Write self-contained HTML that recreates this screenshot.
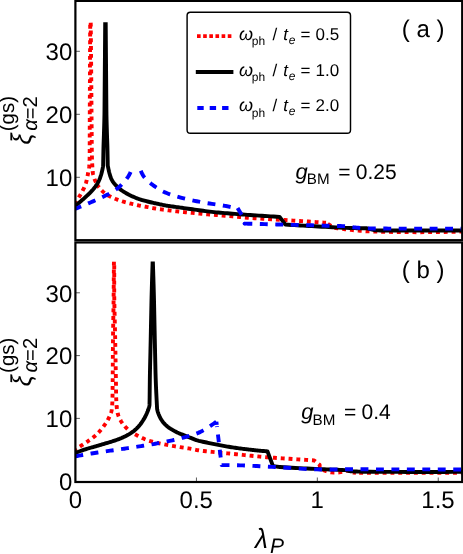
<!DOCTYPE html>
<html><head><meta charset="utf-8"><title>chart</title>
<style>html,body{margin:0;padding:0;background:#fff;}body{width:463px;height:554px;overflow:hidden;font-family:"Liberation Sans",sans-serif;}svg{display:block;will-change:transform;}text{text-rendering:geometricPrecision;}</style>
</head><body>
<svg width="463" height="554" viewBox="0 0 463 554">
<rect width="463" height="554" fill="#fff"/>
<defs><clipPath id="ca"><rect x="75.4" y="22.3" width="386.79999999999995" height="217.88"/></clipPath><clipPath id="cb"><rect x="75.4" y="261.5" width="386.79999999999995" height="220.5"/></clipPath></defs>
<g clip-path="url(#ca)">
<path d="M90.45 9.30 L90.42 10.57 L90.40 11.84 L90.38 13.11 L90.35 14.38 L90.33 15.65 L90.31 16.92 L90.29 18.19 L90.28 19.46 L90.26 20.73 L90.25 22.00 L90.22 25.80 L90.19 29.60 L90.16 33.40 L90.13 37.20 L90.10 41.00 L90.08 44.80 L90.06 48.60 L90.04 52.40 L90.02 56.20 L90.00 60.00 L89.98 65.00 L89.96 70.00 L89.94 75.00 L89.92 80.00 L89.90 85.00 L89.88 90.00 L89.86 95.00 L89.84 100.00 L89.82 105.00 L89.80 110.00 L89.79 114.00 L89.77 118.00 L89.76 122.00 L89.75 126.00 L89.74 130.00 L89.74 134.00 L89.73 138.00 L89.72 142.00 L89.71 146.00 L89.70 150.00 L89.70 151.53 L89.69 153.06 L89.68 154.59 L89.66 156.12 L89.63 157.65 L89.59 159.18 L89.54 160.71 L89.48 162.24 L89.40 163.77 L89.30 165.30 L89.22 166.19 L89.12 167.07 L89.01 167.96 L88.87 168.84 L88.72 169.71 L88.56 170.59 L88.40 171.47 L88.23 172.35 L88.06 173.22 L87.90 174.10 L87.76 174.87 L87.62 175.65 L87.47 176.42 L87.32 177.19 L87.17 177.96 L87.01 178.73 L86.84 179.50 L86.67 180.27 L86.49 181.03 L86.30 181.80 L86.10 182.55 L85.87 183.29 L85.63 184.02 L85.37 184.75 L85.09 185.47 L84.80 186.19 L84.49 186.90 L84.17 187.60 L83.84 188.30 L83.50 189.00 L83.13 189.73 L82.76 190.45 L82.39 191.17 L82.01 191.89 L81.62 192.60 L81.23 193.30 L80.84 194.01 L80.43 194.71 L80.02 195.41 L79.60 196.10 L79.20 196.76 L78.79 197.42 L78.38 198.08 L77.97 198.73 L77.55 199.38 L77.13 200.03 L76.71 200.68 L76.28 201.32 L75.84 201.96 L75.40 202.60" fill="none" stroke="#ff0000" stroke-width="3.9" stroke-linejoin="round" stroke-dasharray="3.884 3.884" stroke-dashoffset="0.000"/>
<path d="M90.45 9.30 L90.48 10.57 L90.51 11.84 L90.54 13.11 L90.57 14.38 L90.59 15.65 L90.62 16.92 L90.64 18.19 L90.66 19.46 L90.68 20.73 L90.70 22.00 L90.75 25.80 L90.79 29.60 L90.84 33.40 L90.88 37.20 L90.92 41.00 L90.96 44.80 L91.00 48.60 L91.03 52.40 L91.07 56.20 L91.10 60.00 L91.14 65.00 L91.18 70.00 L91.22 75.00 L91.26 80.00 L91.30 85.00 L91.34 90.00 L91.38 95.00 L91.42 100.00 L91.46 105.00 L91.50 110.00 L91.53 114.00 L91.56 118.00 L91.59 122.00 L91.62 126.00 L91.65 130.00 L91.68 134.00 L91.71 138.00 L91.74 142.00 L91.77 146.00 L91.80 150.00 L91.82 152.08 L91.86 154.16 L91.91 156.24 L91.98 158.32 L92.05 160.40 L92.14 162.48 L92.24 164.56 L92.35 166.64 L92.47 168.72 L92.60 170.80 L92.67 171.60 L92.77 172.39 L92.90 173.18 L93.06 173.96 L93.24 174.74 L93.45 175.52 L93.67 176.29 L93.90 177.06 L94.15 177.83 L94.40 178.60 L94.60 179.19 L94.82 179.77 L95.05 180.34 L95.29 180.90 L95.55 181.46 L95.81 182.02 L96.09 182.57 L96.38 183.12 L96.69 183.66 L97.00 184.20" fill="none" stroke="#ff0000" stroke-width="3.9" stroke-linejoin="round" stroke-dasharray="3.910 3.910" stroke-dashoffset="2.300"/>
<path d="M97.00 184.20 L97.11 184.43 L97.23 184.66 L97.35 184.89 L97.47 185.11 L97.60 185.33 L97.73 185.55 L97.87 185.77 L98.01 185.98 L98.15 186.19 L98.30 186.40 L98.71 186.96 L99.13 187.52 L99.56 188.06 L100.00 188.59 L100.45 189.12 L100.91 189.63 L101.39 190.14 L101.88 190.64 L102.38 191.12 L102.90 191.60 L103.50 192.12 L104.10 192.63 L104.71 193.13 L105.33 193.60 L105.96 194.06 L106.61 194.51 L107.26 194.93 L107.93 195.34 L108.61 195.73 L109.30 196.10 L110.01 196.46 L110.72 196.81 L111.43 197.15 L112.14 197.49 L112.86 197.81 L113.58 198.13 L114.30 198.44 L115.03 198.74 L115.76 199.02 L116.50 199.30 L117.26 199.58 L118.03 199.86 L118.79 200.14 L119.56 200.42 L120.33 200.68 L121.09 200.95 L121.86 201.20 L122.64 201.45 L123.42 201.68 L124.20 201.90 L124.98 202.11 L125.76 202.32 L126.54 202.52 L127.31 202.73 L128.09 202.93 L128.87 203.12 L129.65 203.32 L130.44 203.52 L131.22 203.71 L132.00 203.90 L132.64 204.06 L133.28 204.21 L133.92 204.37 L134.55 204.53 L135.19 204.68 L135.83 204.84 L136.47 204.99 L137.11 205.13 L137.76 205.27 L138.40 205.40 L139.22 205.56 L140.04 205.71 L140.86 205.87 L141.68 206.01 L142.50 206.16 L143.32 206.31 L144.14 206.45 L144.96 206.60 L145.78 206.75 L146.60 206.90 L147.38 207.05 L148.16 207.20 L148.94 207.35 L149.72 207.51 L150.50 207.66 L151.28 207.82 L152.06 207.97 L152.84 208.12 L153.62 208.26 L154.40 208.40 L155.17 208.53 L155.94 208.65 L156.70 208.77 L157.47 208.88 L158.24 208.99 L159.01 209.10 L159.79 209.20 L160.56 209.30 L161.33 209.40 L162.10 209.50 L162.88 209.60 L163.66 209.70 L164.44 209.80 L165.22 209.90 L166.00 210.00 L166.78 210.10 L167.56 210.20 L168.34 210.30 L169.12 210.40 L169.90 210.50 L170.64 210.59 L171.38 210.69 L172.12 210.78 L172.86 210.87 L173.60 210.97 L174.34 211.06 L175.08 211.15 L175.82 211.23 L176.56 211.32 L177.30 211.40 L178.08 211.48 L178.86 211.57 L179.64 211.65 L180.42 211.73 L181.20 211.81 L181.98 211.89 L182.76 211.96 L183.54 212.04 L184.32 212.12 L185.10 212.20 L186.91 212.38 L188.72 212.57 L190.53 212.75 L192.34 212.93 L194.15 213.12 L195.96 213.30 L197.77 213.48 L199.58 213.65 L201.39 213.83 L203.20 214.00 L205.36 214.20 L207.52 214.38 L209.68 214.55 L211.84 214.72 L214.00 214.88 L216.16 215.04 L218.32 215.20 L220.48 215.36 L222.64 215.53 L224.80 215.70 L227.32 215.91 L229.84 216.14 L232.36 216.37 L234.88 216.61 L237.40 216.85 L239.92 217.08 L242.43 217.30 L244.96 217.52 L247.48 217.72 L250.00 217.90 L254.32 218.19 L258.64 218.47 L262.96 218.74 L267.28 219.01 L271.60 219.27 L275.92 219.53 L280.24 219.79 L284.56 220.06 L288.88 220.33 L293.20 220.60 L295.36 220.74 L297.52 220.88 L299.68 221.02 L301.84 221.15 L304.00 221.29 L306.16 221.43 L308.32 221.57 L310.48 221.71 L312.64 221.86 L314.80 222.00 L315.92 222.08 L317.04 222.15 L318.16 222.23 L319.28 222.31 L320.40 222.39 L321.52 222.47 L322.64 222.55 L323.76 222.63 L324.88 222.72 L326.00 222.80" fill="none" stroke="#ff0000" stroke-width="3.9" stroke-linejoin="round" stroke-dasharray="3.881 3.881" stroke-dashoffset="7.735"/>
<path d="M326.00 222.80 L334.00 227.80 L334.00 227.80 L335.10 227.95 L336.20 228.10 L337.30 228.24 L338.40 228.38 L339.50 228.52 L340.60 228.66 L341.70 228.80 L342.80 228.93 L343.90 229.07 L345.00 229.20 L346.50 229.38 L348.00 229.56 L349.49 229.73 L350.99 229.89 L352.49 230.05 L353.99 230.21 L355.49 230.37 L356.99 230.52 L358.50 230.66 L360.00 230.80 L361.50 230.93 L363.00 231.05 L364.50 231.15 L366.00 231.24 L367.50 231.32 L369.00 231.39 L370.50 231.45 L372.00 231.51 L373.50 231.56 L375.00 231.60 L383.70 231.81 L392.39 231.97 L401.09 232.09 L409.79 232.16 L418.49 232.18 L427.19 232.16 L435.89 232.09 L444.59 231.97 L453.29 231.81 L462.00 231.60" fill="none" stroke="#ff0000" stroke-width="3.9" stroke-linejoin="round" stroke-dasharray="3.910 3.910" stroke-dashoffset="5.708"/>
<path d="M75.40 205.80 L76.15 205.18 L76.90 204.56 L77.64 203.94 L78.38 203.31 L79.12 202.68 L79.86 202.05 L80.60 201.41 L81.33 200.78 L82.07 200.14 L82.80 199.50 L83.47 198.92 L84.13 198.33 L84.78 197.74 L85.44 197.14 L86.08 196.54 L86.73 195.94 L87.38 195.33 L88.02 194.72 L88.66 194.11 L89.30 193.50 L90.00 192.81 L90.68 192.11 L91.35 191.40 L92.00 190.68 L92.65 189.94 L93.27 189.20 L93.89 188.44 L94.50 187.67 L95.11 186.89 L95.70 186.10 L96.13 185.51 L96.54 184.91 L96.94 184.30 L97.32 183.68 L97.69 183.06 L98.04 182.42 L98.38 181.78 L98.70 181.13 L99.01 180.47 L99.30 179.80 L99.58 179.13 L99.85 178.46 L100.10 177.79 L100.35 177.11 L100.58 176.44 L100.80 175.76 L101.02 175.07 L101.22 174.38 L101.42 173.69 L101.60 173.00 L101.79 172.26 L101.97 171.51 L102.15 170.77 L102.32 170.02 L102.48 169.27 L102.63 168.52 L102.77 167.77 L102.91 167.02 L103.03 166.26 L103.15 165.50 L103.15 165.50 L103.17 164.35 L103.19 163.20 L103.20 162.05 L103.22 160.90 L103.24 159.75 L103.27 158.60 L103.29 157.45 L103.31 156.30 L103.33 155.15 L103.35 154.00 L103.37 153.10 L103.38 152.20 L103.40 151.30 L103.42 150.40 L103.44 149.50 L103.46 148.60 L103.48 147.70 L103.50 146.80 L103.53 145.90 L103.55 145.00 L103.58 144.00 L103.61 143.00 L103.65 142.00 L103.68 141.00 L103.72 140.00 L103.76 139.00 L103.80 138.00 L103.83 137.00 L103.87 136.00 L103.90 135.00 L103.98 132.50 L104.05 130.00 L104.13 127.50 L104.20 125.00 L104.27 122.50 L104.33 120.00 L104.39 117.50 L104.44 115.00 L104.47 112.50 L104.50 110.00 L104.54 105.00 L104.58 100.00 L104.62 95.00 L104.66 90.00 L104.70 85.00 L104.74 80.00 L104.78 75.00 L104.82 70.00 L104.86 65.00 L104.90 60.00 L104.93 56.20 L104.96 52.40 L104.99 48.60 L105.02 44.80 L105.05 41.00 L105.08 37.20 L105.11 33.40 L105.14 29.60 L105.17 25.80 L105.20 22.00 L105.21 20.60 L105.23 19.20 L105.25 17.80 L105.27 16.40 L105.30 15.00 L105.33 13.60 L105.36 12.20 L105.39 10.80 L105.42 9.40 L105.45 8.00 L105.45 8.00 L105.48 9.40 L105.51 10.80 L105.54 12.20 L105.57 13.60 L105.60 15.00 L105.63 16.40 L105.65 17.80 L105.67 19.20 L105.69 20.60 L105.70 22.00 L105.73 25.80 L105.76 29.60 L105.79 33.40 L105.82 37.20 L105.85 41.00 L105.88 44.80 L105.91 48.60 L105.94 52.40 L105.97 56.20 L106.00 60.00 L106.04 65.00 L106.08 70.00 L106.12 75.00 L106.16 80.00 L106.20 85.00 L106.24 90.00 L106.28 95.00 L106.32 100.00 L106.36 105.00 L106.40 110.00 L106.43 112.50 L106.46 115.00 L106.51 117.50 L106.57 120.00 L106.63 122.50 L106.70 125.00 L106.77 127.50 L106.85 130.00 L106.92 132.50 L107.00 135.00 L107.03 136.00 L107.07 137.00 L107.10 138.00 L107.14 139.00 L107.18 140.00 L107.22 141.00 L107.25 142.00 L107.29 143.00 L107.32 144.00 L107.35 145.00 L107.37 145.90 L107.40 146.80 L107.42 147.70 L107.44 148.60 L107.46 149.50 L107.48 150.40 L107.50 151.30 L107.52 152.20 L107.53 153.10 L107.55 154.00 L107.57 155.15 L107.59 156.30 L107.61 157.45 L107.63 158.60 L107.66 159.75 L107.68 160.90 L107.70 162.05 L107.71 163.20 L107.73 164.35 L107.75 165.50 L107.75 165.50 L107.85 166.05 L107.95 166.61 L108.06 167.16 L108.17 167.71 L108.29 168.26 L108.41 168.81 L108.53 169.36 L108.65 169.90 L108.78 170.45 L108.90 171.00 L109.05 171.67 L109.22 172.34 L109.38 173.00 L109.56 173.66 L109.75 174.32 L109.94 174.98 L110.14 175.64 L110.35 176.29 L110.57 176.95 L110.80 177.60 L111.11 178.39 L111.45 179.15 L111.83 179.90 L112.25 180.63 L112.70 181.34 L113.17 182.03 L113.67 182.72 L114.19 183.39 L114.74 184.05 L115.30 184.70 L115.89 185.35 L116.48 185.98 L117.09 186.59 L117.70 187.19 L118.33 187.77 L118.97 188.32 L119.63 188.87 L120.30 189.39 L120.99 189.90 L121.70 190.40 L122.59 191.00 L123.49 191.58 L124.38 192.15 L125.29 192.71 L126.20 193.25 L127.12 193.77 L128.05 194.28 L128.98 194.77 L129.94 195.24 L130.90 195.70 L131.92 196.17 L132.95 196.63 L133.97 197.08 L135.00 197.52 L136.03 197.95 L137.07 198.36 L138.12 198.75 L139.17 199.13 L140.23 199.48 L141.30 199.80 L142.34 200.10 L143.37 200.39 L144.41 200.67 L145.44 200.95 L146.48 201.23 L147.52 201.50 L148.56 201.76 L149.61 202.01 L150.65 202.26 L151.70 202.50 L152.53 202.69 L153.36 202.87 L154.19 203.05 L155.02 203.24 L155.85 203.42 L156.68 203.60 L157.51 203.78 L158.34 203.95 L159.17 204.13 L160.00 204.30 L160.89 204.48 L161.77 204.67 L162.66 204.86 L163.55 205.04 L164.44 205.22 L165.33 205.39 L166.22 205.56 L167.11 205.72 L168.00 205.87 L168.90 206.00 L170.19 206.18 L171.48 206.36 L172.77 206.54 L174.06 206.72 L175.35 206.90 L176.64 207.08 L177.93 207.26 L179.22 207.44 L180.51 207.62 L181.80 207.80 L183.94 208.10 L186.08 208.40 L188.22 208.70 L190.36 209.00 L192.50 209.30 L194.64 209.60 L196.78 209.90 L198.92 210.20 L201.06 210.50 L203.20 210.80 L205.35 211.09 L207.51 211.37 L209.66 211.62 L211.82 211.87 L213.98 212.10 L216.14 212.32 L218.31 212.53 L220.47 212.73 L222.64 212.92 L224.80 213.10 L227.32 213.31 L229.84 213.51 L232.36 213.71 L234.88 213.91 L237.40 214.10 L239.92 214.29 L242.44 214.47 L244.96 214.65 L247.48 214.83 L250.00 215.00 L252.96 215.20 L255.92 215.40 L258.88 215.59 L261.84 215.79 L264.80 215.98 L267.76 216.17 L270.72 216.36 L273.68 216.54 L276.64 216.72 L279.60 216.90 L285.40 224.60 L288.34 224.78 L291.28 224.96 L294.22 225.13 L297.16 225.31 L300.10 225.48 L303.04 225.64 L305.98 225.81 L308.92 225.97 L311.86 226.14 L314.80 226.30 L318.32 226.49 L321.84 226.68 L325.36 226.86 L328.88 227.04 L332.40 227.21 L335.92 227.38 L339.44 227.54 L342.96 227.70 L346.48 227.85 L350.00 228.00 L351.70 228.06 L353.40 228.12 L355.10 228.16 L356.80 228.20 L358.50 228.23 L360.20 228.26 L361.90 228.27 L363.60 228.29 L365.30 228.29 L367.00 228.30 L375.40 230.40 L377.86 230.41 L380.32 230.43 L382.78 230.44 L385.24 230.45 L387.70 230.46 L390.16 230.47 L392.62 230.48 L395.08 230.49 L397.54 230.49 L400.00 230.50 L406.20 230.51 L412.40 230.52 L418.60 230.53 L424.80 230.53 L431.00 230.53 L437.20 230.53 L443.40 230.53 L449.60 230.52 L455.80 230.51 L462.00 230.50" fill="none" stroke="#000000" stroke-width="3.9" stroke-linejoin="round"/>
<path d="M130.60 172.00 L130.30 172.66 L130.00 173.31 L129.68 173.95 L129.35 174.58 L129.01 175.20 L128.66 175.82 L128.29 176.43 L127.91 177.03 L127.51 177.62 L127.10 178.20 L126.59 178.89 L126.06 179.57 L125.53 180.24 L124.98 180.90 L124.43 181.55 L123.86 182.20 L123.29 182.83 L122.70 183.46 L122.11 184.08 L121.50 184.70 L121.03 185.16 L120.57 185.62 L120.10 186.07 L119.62 186.52 L119.14 186.95 L118.65 187.38 L118.15 187.80 L117.65 188.21 L117.13 188.61 L116.60 189.00 L115.59 189.71 L114.57 190.41 L113.55 191.08 L112.52 191.74 L111.48 192.39 L110.42 193.01 L109.36 193.61 L108.29 194.20 L107.20 194.76 L106.10 195.30 L104.65 195.99 L103.20 196.68 L101.74 197.37 L100.29 198.05 L98.83 198.73 L97.37 199.39 L95.91 200.06 L94.44 200.71 L92.97 201.36 L91.50 202.00 L89.89 202.69 L88.29 203.38 L86.68 204.07 L85.08 204.76 L83.47 205.44 L81.86 206.13 L80.25 206.80 L78.64 207.47 L77.02 208.14 L75.40 208.80" fill="none" stroke="#0000ff" stroke-width="3.9" stroke-linejoin="round" stroke-dasharray="7.900 7.550" stroke-dashoffset="0.000"/>
<path d="M140.80 170.80 L141.13 171.59 L141.47 172.37 L141.83 173.14 L142.20 173.89 L142.60 174.62 L143.03 175.33 L143.48 176.03 L143.95 176.70 L144.46 177.36 L145.00 178.00 L145.71 178.78 L146.43 179.54 L147.17 180.28 L147.93 181.00 L148.70 181.71 L149.48 182.39 L150.29 183.07 L151.11 183.73 L151.95 184.37 L152.80 185.00 L153.97 185.85 L155.15 186.68 L156.32 187.50 L157.51 188.29 L158.71 189.06 L159.92 189.81 L161.15 190.52 L162.40 191.19 L163.69 191.82 L165.00 192.40 L166.63 193.07 L168.27 193.71 L169.91 194.31 L171.55 194.89 L173.21 195.44 L174.87 195.97 L176.54 196.46 L178.22 196.93 L179.90 197.38 L181.60 197.80 L183.75 198.32 L185.91 198.83 L188.06 199.34 L190.21 199.84 L192.37 200.32 L194.53 200.79 L196.69 201.25 L198.85 201.69 L201.02 202.11 L203.20 202.50 L205.36 202.86 L207.52 203.20 L209.68 203.52 L211.84 203.83 L214.01 204.13 L216.17 204.44 L218.33 204.75 L220.49 205.08 L222.65 205.42 L224.80 205.80 L225.38 205.91 L225.96 206.02 L226.55 206.13 L227.13 206.25 L227.71 206.36 L228.29 206.48 L228.87 206.61 L229.44 206.74 L230.02 206.87 L230.60 207.00" fill="none" stroke="#0000ff" stroke-width="3.9" stroke-linejoin="round" stroke-dasharray="7.895 7.546" stroke-dashoffset="0.000"/>
<path d="M237.60 207.90 L241.60 214.70" fill="none" stroke="#0000ff" stroke-width="3.9" stroke-linejoin="round"/>
<path d="M244.40 223.60 L245.25 223.62 L246.10 223.64 L246.95 223.66 L247.80 223.68 L248.65 223.70 L249.50 223.72 L250.35 223.74 L251.20 223.76 L252.05 223.78 L252.90 223.80 L255.85 223.88 L258.80 223.96 L261.75 224.04 L264.70 224.12 L267.65 224.20 L270.60 224.29 L273.55 224.37 L276.50 224.45 L279.45 224.53 L282.40 224.60 L285.64 224.68 L288.88 224.76 L292.12 224.84 L295.36 224.92 L298.60 225.00 L301.84 225.08 L305.08 225.16 L308.32 225.24 L311.56 225.32 L314.80 225.40 L317.61 225.47 L320.42 225.54 L323.23 225.61 L326.04 225.68 L328.85 225.75 L331.66 225.82 L334.47 225.89 L337.28 225.96 L340.09 226.03 L342.90 226.10 L344.29 226.16 L345.67 226.27 L347.05 226.41 L348.43 226.57 L349.80 226.76 L351.18 226.95 L352.56 227.14 L353.94 227.32 L355.32 227.47 L356.70 227.60 L358.25 227.72 L359.80 227.84 L361.35 227.96 L362.90 228.08 L364.44 228.19 L365.99 228.28 L367.55 228.37 L369.10 228.43 L370.65 228.48 L372.20 228.50 L374.98 228.52 L377.76 228.54 L380.54 228.55 L383.32 228.56 L386.10 228.57 L388.88 228.58 L391.66 228.59 L394.44 228.60 L397.22 228.60 L400.00 228.60 L406.20 228.60 L412.40 228.61 L418.60 228.61 L424.80 228.61 L431.00 228.62 L437.20 228.62 L443.40 228.62 L449.60 228.61 L455.80 228.61 L462.00 228.60" fill="none" stroke="#0000ff" stroke-width="3.9" stroke-linejoin="round" stroke-dasharray="7.900 7.550" stroke-dashoffset="0.000"/>
<circle cx="244.5" cy="223.6" r="1.9" fill="#0000ff"/>
</g>
<g clip-path="url(#cb)">
<path d="M114.08 253.90 L114.06 254.61 L114.05 255.32 L114.03 256.03 L114.02 256.74 L114.01 257.45 L113.99 258.16 L113.98 258.87 L113.97 259.58 L113.96 260.29 L113.95 261.00 L113.90 264.90 L113.87 268.80 L113.83 272.70 L113.80 276.60 L113.77 280.50 L113.75 284.40 L113.72 288.30 L113.68 292.20 L113.64 296.10 L113.60 300.00 L113.55 304.00 L113.49 308.00 L113.42 312.00 L113.36 316.00 L113.29 320.00 L113.22 324.00 L113.16 328.00 L113.10 332.00 L113.04 336.00 L113.00 340.00 L112.96 344.00 L112.93 348.00 L112.90 352.00 L112.87 356.00 L112.84 360.00 L112.82 364.00 L112.79 368.00 L112.76 372.00 L112.73 376.00 L112.70 380.00 L112.69 381.50 L112.67 383.00 L112.66 384.50 L112.65 386.00 L112.63 387.50 L112.61 389.00 L112.60 390.50 L112.58 392.00 L112.57 393.50 L112.55 395.00 L112.54 395.58 L112.53 396.16 L112.52 396.74 L112.50 397.32 L112.49 397.90 L112.47 398.48 L112.45 399.06 L112.43 399.64 L112.42 400.22 L112.40 400.80 L112.37 401.58 L112.34 402.36 L112.31 403.14 L112.27 403.92 L112.22 404.70 L112.17 405.48 L112.11 406.26 L112.05 407.04 L111.98 407.82 L111.90 408.60 L111.81 409.32 L111.69 410.04 L111.54 410.75 L111.36 411.45 L111.16 412.15 L110.94 412.85 L110.70 413.54 L110.45 414.23 L110.18 414.92 L109.90 415.60 L109.62 416.27 L109.32 416.93 L109.02 417.59 L108.71 418.24 L108.38 418.88 L108.05 419.51 L107.71 420.14 L107.35 420.76 L106.98 421.38 L106.60 422.00 L106.12 422.75 L105.63 423.50 L105.13 424.23 L104.63 424.96 L104.11 425.69 L103.59 426.40 L103.06 427.11 L102.52 427.81 L101.96 428.51 L101.40 429.20 L100.77 429.96 L100.13 430.72 L99.49 431.46 L98.83 432.20 L98.17 432.92 L97.49 433.63 L96.80 434.33 L96.08 435.00 L95.35 435.66 L94.60 436.30 L94.00 436.79 L93.39 437.27 L92.78 437.75 L92.17 438.22 L91.55 438.68 L90.93 439.14 L90.31 439.59 L89.68 440.03 L89.04 440.47 L88.40 440.90 L87.75 441.33 L87.10 441.76 L86.45 442.19 L85.80 442.62 L85.15 443.05 L84.50 443.48 L83.85 443.91 L83.20 444.34 L82.55 444.77 L81.90 445.20 L81.25 445.63 L80.60 446.06 L79.95 446.49 L79.30 446.92 L78.65 447.35 L78.00 447.78 L77.35 448.21 L76.70 448.64 L76.05 449.07 L75.40 449.50" fill="none" stroke="#ff0000" stroke-width="3.9" stroke-linejoin="round" stroke-dasharray="3.885 3.885" stroke-dashoffset="0.000"/>
<path d="M114.08 253.90 L114.10 254.61 L114.11 255.32 L114.13 256.03 L114.14 256.74 L114.15 257.45 L114.16 258.16 L114.17 258.87 L114.18 259.58 L114.19 260.29 L114.20 261.00 L114.23 264.90 L114.24 268.80 L114.24 272.70 L114.23 276.60 L114.22 280.50 L114.21 284.40 L114.21 288.30 L114.22 292.20 L114.25 296.10 L114.30 300.00 L114.37 304.00 L114.46 308.00 L114.55 312.00 L114.65 316.00 L114.74 320.00 L114.84 324.00 L114.94 328.00 L115.03 332.00 L115.12 336.00 L115.20 340.00 L115.27 344.00 L115.35 348.00 L115.42 352.00 L115.49 356.00 L115.56 360.00 L115.63 364.00 L115.70 368.00 L115.76 372.00 L115.83 376.00 L115.90 380.00 L115.92 381.50 L115.95 383.00 L115.97 384.50 L115.99 386.00 L116.00 387.50 L116.02 389.00 L116.04 390.50 L116.06 392.00 L116.08 393.50 L116.10 395.00 L116.11 395.78 L116.13 396.56 L116.16 397.34 L116.19 398.12 L116.22 398.90 L116.26 399.68 L116.29 400.46 L116.33 401.24 L116.36 402.02 L116.40 402.80 L116.44 403.67 L116.50 404.55 L116.57 405.42 L116.64 406.29 L116.73 407.16 L116.83 408.03 L116.93 408.90 L117.05 409.76 L117.17 410.63 L117.30 411.50 L117.44 412.31 L117.62 413.12 L117.83 413.91 L118.07 414.70 L118.34 415.48 L118.63 416.25 L118.94 417.02 L119.28 417.78 L119.63 418.54 L120.00 419.30 L120.32 419.93 L120.66 420.54 L121.00 421.14 L121.36 421.74 L121.73 422.32 L122.12 422.89 L122.51 423.45 L122.93 424.01 L123.36 424.56 L123.80 425.10 L124.35 425.74 L124.90 426.38 L125.47 427.00 L126.04 427.60 L126.62 428.20 L127.21 428.78 L127.82 429.35 L128.43 429.91 L129.06 430.46 L129.70 431.00 L129.88 431.15 L130.06 431.29 L130.24 431.43 L130.43 431.56 L130.62 431.69 L130.81 431.82 L131.00 431.94 L131.20 432.07 L131.40 432.18 L131.60 432.30" fill="none" stroke="#ff0000" stroke-width="3.9" stroke-linejoin="round" stroke-dasharray="3.885 3.885" stroke-dashoffset="4.170"/>
<path d="M131.60 432.30 L132.34 432.75 L133.09 433.20 L133.84 433.63 L134.60 434.06 L135.36 434.48 L136.12 434.89 L136.88 435.30 L137.65 435.71 L138.42 436.11 L139.20 436.50 L140.15 436.98 L141.09 437.45 L142.05 437.91 L143.00 438.36 L143.97 438.80 L144.93 439.22 L145.91 439.62 L146.90 440.01 L147.89 440.37 L148.90 440.70 L150.05 441.05 L151.20 441.39 L152.35 441.71 L153.51 442.02 L154.67 442.31 L155.83 442.59 L156.99 442.86 L158.16 443.12 L159.33 443.36 L160.50 443.60 L161.82 443.86 L163.14 444.12 L164.45 444.39 L165.77 444.64 L167.09 444.90 L168.41 445.15 L169.73 445.40 L171.05 445.64 L172.38 445.87 L173.70 446.10 L175.33 446.37 L176.96 446.63 L178.59 446.89 L180.22 447.15 L181.85 447.40 L183.48 447.66 L185.11 447.91 L186.74 448.17 L188.37 448.43 L190.00 448.70 L191.16 448.90 L192.32 449.12 L193.48 449.35 L194.63 449.59 L195.79 449.83 L196.95 450.06 L198.10 450.27 L199.27 450.47 L200.43 450.65 L201.60 450.80 L203.76 451.04 L205.92 451.26 L208.08 451.47 L210.24 451.68 L212.40 451.88 L214.56 452.08 L216.72 452.28 L218.88 452.48 L221.04 452.69 L223.20 452.90 L225.36 453.12 L227.52 453.34 L229.68 453.56 L231.84 453.78 L234.00 454.00 L236.16 454.22 L238.32 454.44 L240.48 454.66 L242.64 454.88 L244.80 455.10 L246.96 455.32 L249.12 455.54 L251.28 455.76 L253.44 455.98 L255.60 456.20 L257.75 456.41 L259.91 456.62 L262.08 456.82 L264.24 457.02 L266.40 457.20 L268.42 457.36 L270.44 457.52 L272.46 457.66 L274.48 457.80 L276.50 457.94 L278.52 458.08 L280.54 458.21 L282.56 458.34 L284.58 458.47 L286.60 458.60 L289.36 458.78 L292.12 458.96 L294.88 459.15 L297.64 459.33 L300.40 459.51 L303.16 459.69 L305.92 459.87 L308.68 460.05 L311.44 460.22 L314.20 460.40 L319.60 464.80 L319.72 465.43 L319.87 466.02 L320.05 466.56 L320.25 467.06 L320.47 467.52 L320.73 467.94 L321.01 468.32 L321.31 468.66 L321.64 468.95 L322.00 469.20 L324.07 470.33 L326.28 471.23 L328.62 471.91 L331.11 472.35 L333.74 472.58 L336.51 472.57 L339.42 472.35 L342.48 471.89 L345.67 471.21 L349.00 470.30 L353.50 472.60 L356.00 472.90" fill="none" stroke="#ff0000" stroke-width="3.9" stroke-linejoin="round" stroke-dasharray="3.910 3.910" stroke-dashoffset="3.928"/>
<path d="M356.00 472.90 L462.00 472.90" fill="none" stroke="#ff0000" stroke-width="3.9" stroke-linejoin="round" stroke-dasharray="3.910 3.910" stroke-dashoffset="4.640"/>
<path d="M75.40 452.90 L76.65 452.43 L77.90 451.95 L79.15 451.49 L80.40 451.03 L81.66 450.58 L82.92 450.14 L84.18 449.71 L85.45 449.29 L86.72 448.89 L88.00 448.50 L89.29 448.12 L90.58 447.75 L91.87 447.38 L93.16 447.01 L94.45 446.64 L95.74 446.28 L97.03 445.91 L98.32 445.54 L99.61 445.17 L100.90 444.80 L102.01 444.47 L103.12 444.15 L104.23 443.82 L105.34 443.49 L106.45 443.16 L107.56 442.83 L108.67 442.50 L109.78 442.17 L110.89 441.83 L112.00 441.50 L112.87 441.23 L113.74 440.95 L114.61 440.65 L115.47 440.35 L116.33 440.04 L117.18 439.72 L118.04 439.39 L118.89 439.07 L119.75 438.73 L120.60 438.40 L121.50 438.04 L122.39 437.66 L123.28 437.26 L124.15 436.85 L125.02 436.42 L125.89 435.98 L126.75 435.53 L127.60 435.06 L128.45 434.59 L129.30 434.10 L130.05 433.65 L130.78 433.19 L131.50 432.71 L132.20 432.22 L132.90 431.71 L133.58 431.18 L134.25 430.63 L134.91 430.07 L135.56 429.49 L136.20 428.90 L136.80 428.32 L137.39 427.72 L137.97 427.12 L138.52 426.51 L139.07 425.89 L139.60 425.25 L140.12 424.61 L140.62 423.95 L141.12 423.28 L141.60 422.60 L142.07 421.91 L142.53 421.22 L142.98 420.53 L143.41 419.83 L143.84 419.12 L144.25 418.41 L144.66 417.69 L145.05 416.97 L145.43 416.24 L145.80 415.50 L146.12 414.83 L146.44 414.15 L146.74 413.47 L147.04 412.79 L147.32 412.10 L147.60 411.41 L147.86 410.72 L148.12 410.02 L148.36 409.31 L148.60 408.60 L148.60 408.60 L148.73 408.19 L148.86 407.79 L148.98 407.38 L149.10 406.98 L149.20 406.57 L149.30 406.16 L149.37 405.75 L149.44 405.33 L149.48 404.92 L149.50 404.50 L149.57 401.05 L149.63 397.60 L149.67 394.15 L149.71 390.70 L149.75 387.25 L149.79 383.80 L149.83 380.35 L149.87 376.90 L149.93 373.45 L150.00 370.00 L150.07 366.90 L150.14 363.80 L150.21 360.70 L150.29 357.60 L150.36 354.50 L150.43 351.40 L150.50 348.30 L150.57 345.20 L150.64 342.10 L150.70 339.00 L150.76 336.30 L150.81 333.60 L150.87 330.90 L150.92 328.20 L150.98 325.50 L151.03 322.80 L151.08 320.10 L151.14 317.40 L151.19 314.70 L151.25 312.00 L151.27 310.80 L151.30 309.60 L151.32 308.40 L151.35 307.20 L151.37 306.00 L151.40 304.80 L151.42 303.60 L151.45 302.40 L151.47 301.20 L151.50 300.00 L151.55 298.00 L151.59 296.00 L151.65 294.00 L151.70 292.00 L151.76 290.00 L151.82 288.00 L151.87 286.00 L151.93 284.00 L151.99 282.00 L152.05 280.00 L152.10 278.15 L152.16 276.30 L152.22 274.45 L152.28 272.60 L152.34 270.75 L152.40 268.90 L152.46 267.05 L152.52 265.20 L152.58 263.35 L152.63 261.50 L152.66 260.15 L152.69 258.80 L152.71 257.45 L152.73 256.10 L152.74 254.75 L152.75 253.40 L152.75 252.05 L152.75 250.70 L152.75 249.35 L152.75 248.00 L152.75 248.00 L152.75 249.35 L152.75 250.70 L152.75 252.05 L152.75 253.40 L152.76 254.75 L152.77 256.10 L152.79 257.45 L152.81 258.80 L152.84 260.15 L152.87 261.50 L152.92 263.35 L152.98 265.20 L153.04 267.05 L153.10 268.90 L153.16 270.75 L153.22 272.60 L153.28 274.45 L153.34 276.30 L153.40 278.15 L153.45 280.00 L153.51 282.00 L153.57 284.00 L153.63 286.00 L153.68 288.00 L153.74 290.00 L153.80 292.00 L153.85 294.00 L153.91 296.00 L153.95 298.00 L154.00 300.00 L154.03 301.20 L154.05 302.40 L154.08 303.60 L154.10 304.80 L154.13 306.00 L154.15 307.20 L154.18 308.40 L154.20 309.60 L154.23 310.80 L154.25 312.00 L154.31 314.70 L154.36 317.40 L154.42 320.10 L154.47 322.80 L154.53 325.50 L154.58 328.20 L154.64 330.90 L154.69 333.60 L154.74 336.30 L154.80 339.00 L154.86 342.10 L154.93 345.20 L154.99 348.30 L155.06 351.40 L155.12 354.50 L155.19 357.60 L155.25 360.70 L155.32 363.80 L155.38 366.90 L155.45 370.00 L155.55 373.89 L155.66 377.78 L155.80 381.67 L155.95 385.57 L156.12 389.45 L156.30 393.34 L156.49 397.23 L156.69 401.12 L156.89 405.01 L157.10 408.90 L157.10 408.90 L157.24 409.60 L157.39 410.30 L157.56 410.98 L157.75 411.66 L157.95 412.33 L158.17 412.99 L158.40 413.65 L158.65 414.30 L158.92 414.95 L159.20 415.60 L159.57 416.41 L159.96 417.20 L160.37 417.98 L160.80 418.75 L161.25 419.51 L161.72 420.26 L162.22 420.99 L162.75 421.71 L163.31 422.41 L163.90 423.10 L164.56 423.82 L165.23 424.52 L165.91 425.19 L166.61 425.84 L167.33 426.46 L168.06 427.06 L168.81 427.63 L169.59 428.18 L170.38 428.70 L171.20 429.20 L172.04 429.69 L172.89 430.18 L173.73 430.65 L174.58 431.12 L175.43 431.57 L176.29 432.01 L177.15 432.44 L178.03 432.84 L178.91 433.23 L179.80 433.60 L180.71 433.96 L181.62 434.32 L182.53 434.68 L183.44 435.04 L184.35 435.40 L185.26 435.76 L186.17 436.12 L187.08 436.48 L187.99 436.84 L188.90 437.20 L189.51 437.44 L190.12 437.68 L190.73 437.92 L191.34 438.16 L191.95 438.41 L192.56 438.65 L193.17 438.89 L193.78 439.12 L194.39 439.36 L195.00 439.60 L196.26 440.06 L197.53 440.46 L198.82 440.83 L200.12 441.16 L201.42 441.46 L202.74 441.74 L204.05 442.01 L205.37 442.27 L206.69 442.53 L208.00 442.80 L209.29 443.07 L210.58 443.34 L211.86 443.61 L213.15 443.88 L214.44 444.14 L215.73 444.40 L217.02 444.66 L218.31 444.91 L219.61 445.16 L220.90 445.40 L222.20 445.64 L223.49 445.87 L224.79 446.11 L226.09 446.33 L227.39 446.56 L228.69 446.78 L229.99 446.99 L231.29 447.20 L232.60 447.40 L233.90 447.60 L235.19 447.79 L236.48 447.97 L237.77 448.15 L239.05 448.33 L240.34 448.50 L241.63 448.67 L242.92 448.83 L244.22 448.99 L245.51 449.15 L246.80 449.30 L247.62 449.39 L248.44 449.49 L249.26 449.58 L250.08 449.67 L250.90 449.76 L251.72 449.85 L252.54 449.94 L253.36 450.03 L254.18 450.12 L255.00 450.20 L256.25 450.33 L257.50 450.45 L258.75 450.57 L260.00 450.70 L261.25 450.82 L262.50 450.94 L263.75 451.06 L265.00 451.17 L266.25 451.29 L267.50 451.40 L272.90 465.90 L273.61 466.04 L274.31 466.19 L275.02 466.32 L275.73 466.45 L276.44 466.57 L277.15 466.68 L277.86 466.78 L278.57 466.87 L279.28 466.94 L280.00 467.00 L283.90 467.25 L287.80 467.49 L291.70 467.72 L295.60 467.94 L299.50 468.14 L303.40 468.34 L307.30 468.54 L311.20 468.73 L315.10 468.91 L319.00 469.10 L321.60 469.22 L324.20 469.32 L326.80 469.41 L329.40 469.50 L332.00 469.59 L334.60 469.67 L337.20 469.77 L339.80 469.86 L342.40 469.97 L345.00 470.10 L345.61 470.16 L346.21 470.26 L346.81 470.39 L347.40 470.54 L348.00 470.70 L348.59 470.86 L349.19 471.02 L349.79 471.15 L350.39 471.24 L351.00 471.30 L352.90 471.39 L354.80 471.47 L356.70 471.55 L358.60 471.61 L360.50 471.66 L362.40 471.71 L364.30 471.74 L366.20 471.77 L368.10 471.79 L370.00 471.80 L379.20 471.84 L388.40 471.88 L397.60 471.92 L406.80 471.96 L416.00 471.99 L425.20 472.01 L434.40 472.00 L443.60 471.97 L452.80 471.90 L462.00 471.80" fill="none" stroke="#000000" stroke-width="3.9" stroke-linejoin="round"/>
<path d="M216.40 421.70 L215.76 422.17 L215.12 422.64 L214.48 423.10 L213.83 423.56 L213.18 424.01 L212.53 424.47 L211.87 424.91 L211.22 425.36 L210.56 425.81 L209.90 426.25 L209.09 426.79 L208.28 427.33 L207.47 427.86 L206.65 428.38 L205.83 428.89 L205.00 429.40 L204.17 429.89 L203.32 430.37 L202.47 430.84 L201.60 431.30 L200.48 431.86 L199.35 432.38 L198.21 432.88 L197.06 433.34 L195.90 433.79 L194.74 434.21 L193.56 434.60 L192.38 434.99 L191.19 435.35 L190.00 435.70 L188.38 436.17 L186.75 436.63 L185.13 437.08 L183.50 437.53 L181.88 437.97 L180.25 438.40 L178.62 438.82 L176.98 439.23 L175.34 439.62 L173.70 440.00 L172.38 440.30 L171.07 440.60 L169.75 440.89 L168.43 441.18 L167.11 441.47 L165.79 441.75 L164.47 442.03 L163.15 442.30 L161.83 442.55 L160.50 442.80 L158.75 443.12 L157.00 443.43 L155.26 443.74 L153.51 444.05 L151.76 444.35 L150.01 444.65 L148.26 444.94 L146.51 445.23 L144.75 445.52 L143.00 445.80 L141.12 446.10 L139.24 446.39 L137.36 446.69 L135.48 446.99 L133.60 447.28 L131.72 447.57 L129.84 447.86 L127.96 448.14 L126.08 448.42 L124.20 448.70 L122.65 448.92 L121.10 449.15 L119.55 449.37 L118.00 449.58 L116.45 449.80 L114.90 450.02 L113.35 450.24 L111.80 450.46 L110.25 450.68 L108.70 450.90 L107.14 451.12 L105.58 451.35 L104.02 451.58 L102.46 451.80 L100.90 452.03 L99.34 452.26 L97.78 452.50 L96.22 452.73 L94.66 452.96 L93.10 453.20 L91.32 453.48 L89.55 453.76 L87.78 454.06 L86.01 454.36 L84.24 454.67 L82.47 454.99 L80.70 455.31 L78.93 455.64 L77.17 455.97 L75.40 456.30" fill="none" stroke="#0000ff" stroke-width="3.9" stroke-linejoin="round" stroke-dasharray="7.882 7.533" stroke-dashoffset="0.000"/>
<path d="M216.40 421.70 L216.78 424.88" fill="none" stroke="#0000ff" stroke-width="3.9" stroke-linejoin="round"/>
<path d="M216.94 426.22 L221.60 465.10 L221.60 465.10 L223.92 465.10 L226.24 465.11 L228.56 465.13 L230.88 465.15 L233.20 465.18 L235.52 465.22 L237.84 465.27 L240.16 465.33 L242.48 465.41 L244.80 465.50 L247.82 465.63 L250.84 465.77 L253.86 465.92 L256.88 466.07 L259.90 466.22 L262.92 466.37 L265.94 466.53 L268.96 466.68 L271.98 466.84 L275.00 467.00 L279.18 467.24 L283.36 467.50 L287.54 467.79 L291.71 468.08 L295.89 468.37 L300.07 468.65 L304.25 468.90 L308.43 469.11 L312.61 469.29 L316.80 469.40 L320.26 469.45 L323.72 469.48 L327.18 469.48 L330.64 469.46 L334.10 469.43 L337.56 469.39 L341.02 469.36 L344.48 469.33 L347.94 469.30 L351.40 469.30 L362.46 469.31 L373.52 469.33 L384.58 469.34 L395.64 469.35 L406.70 469.36 L417.76 469.38 L428.82 469.40 L439.88 469.43 L450.94 469.46 L462.00 469.50" fill="none" stroke="#0000ff" stroke-width="3.9" stroke-linejoin="round" stroke-dasharray="7.900 7.550" stroke-dashoffset="7.200"/>
</g>
<path d="M75.40 177.30h4.5 M75.40 418.40h4.5 M75.40 114.30h4.5 M75.40 355.60h4.5 M75.40 51.30h4.5 M75.40 292.80h4.5 M196.44 482.00v-4.5 M317.34 482.00v-4.5 M438.24 482.00v-4.5" stroke="#000" stroke-width="0.65" fill="none"/>
<g fill="none" stroke="#000" stroke-width="2.2">
<rect x="75.4" y="0.9" width="386.79999999999995" height="239.28"/>
<rect x="75.4" y="242.45" width="386.79999999999995" height="239.55"/>
</g>
<rect x="187.1" y="12.3" width="163.4" height="121.0" rx="3.3" ry="3.3" fill="#fff" stroke="#000" stroke-width="1.45"/>
<path d="M197 36.2H232" stroke="#ff0000" stroke-width="3.8" stroke-dasharray="3.65 2.5" fill="none"/>
<path d="M195.8 72H233.4" stroke="#000" stroke-width="3.9" fill="none"/>
<path d="M197.3 108H229" stroke="#0000ff" stroke-width="3.9" stroke-dasharray="6.4 6" fill="none"/>
<text font-family="Liberation Sans, sans-serif" font-size="17" y="39.6" fill="#000"><tspan x="239" font-style="italic" font-size="18">ω</tspan><tspan x="251.8" dy="5.2" font-size="12">ph</tspan><tspan x="272.5" dy="-5.2">/</tspan><tspan x="283.3" font-style="italic">t</tspan><tspan x="288.7" dy="4" font-size="12" font-style="italic">e</tspan><tspan x="300.5" dy="-4">=</tspan><tspan x="315.6">0.5</tspan></text>
<text font-family="Liberation Sans, sans-serif" font-size="17" y="75.5" fill="#000"><tspan x="239" font-style="italic" font-size="18">ω</tspan><tspan x="251.8" dy="5.2" font-size="12">ph</tspan><tspan x="272.5" dy="-5.2">/</tspan><tspan x="283.3" font-style="italic">t</tspan><tspan x="288.7" dy="4" font-size="12" font-style="italic">e</tspan><tspan x="300.5" dy="-4">=</tspan><tspan x="315.6">1.0</tspan></text>
<text font-family="Liberation Sans, sans-serif" font-size="17" y="111.4" fill="#000"><tspan x="239" font-style="italic" font-size="18">ω</tspan><tspan x="251.8" dy="5.2" font-size="12">ph</tspan><tspan x="272.5" dy="-5.2">/</tspan><tspan x="283.3" font-style="italic">t</tspan><tspan x="288.7" dy="4" font-size="12" font-style="italic">e</tspan><tspan x="300.5" dy="-4">=</tspan><tspan x="315.6">2.0</tspan></text>
<text font-family="Liberation Sans, sans-serif" font-size="24" x="401.8" y="36.9" style="white-space:pre">( a )</text>
<text font-family="Liberation Sans, sans-serif" font-size="24" x="401.8" y="277.9" style="white-space:pre">( b )</text>
<text font-family="Liberation Sans, sans-serif" font-size="21" y="178.5"><tspan x="295.5" font-style="italic" font-size="22">g</tspan><tspan x="306.8" dy="5.2" font-size="15.2">BM</tspan><tspan x="338.2" dy="-5.2">=</tspan><tspan x="355.8">0.25</tspan></text>
<text font-family="Liberation Sans, sans-serif" font-size="21" y="419.3"><tspan x="301.2" font-style="italic" font-size="22">g</tspan><tspan x="312.5" dy="5.2" font-size="15.2">BM</tspan><tspan x="343.9" dy="-5.2">=</tspan><tspan x="361.5">0.4</tspan></text>
<text font-family="Liberation Sans, sans-serif" font-size="24" text-anchor="end" x="72.3" y="186.00">10</text>
<text font-family="Liberation Sans, sans-serif" font-size="24" text-anchor="end" x="72.3" y="123.00">20</text>
<text font-family="Liberation Sans, sans-serif" font-size="24" text-anchor="end" x="72.3" y="60.00">30</text>
<text font-family="Liberation Sans, sans-serif" font-size="24" text-anchor="end" x="72.3" y="489.90">0</text>
<text font-family="Liberation Sans, sans-serif" font-size="24" text-anchor="end" x="72.3" y="427.10">10</text>
<text font-family="Liberation Sans, sans-serif" font-size="24" text-anchor="end" x="72.3" y="364.30">20</text>
<text font-family="Liberation Sans, sans-serif" font-size="24" text-anchor="end" x="72.3" y="301.50">30</text>
<text font-family="Liberation Sans, sans-serif" font-size="24" text-anchor="middle" x="75.34" y="508.4">0</text>
<text font-family="Liberation Sans, sans-serif" font-size="24" text-anchor="middle" x="196.24" y="508.4">0.5</text>
<text font-family="Liberation Sans, sans-serif" font-size="24" text-anchor="middle" x="317.14" y="508.4">1</text>
<text font-family="Liberation Sans, sans-serif" font-size="24" text-anchor="middle" x="438.04" y="508.4">1.5</text>
<g transform="translate(255 548.1) scale(1 1.07)"><text font-family="Liberation Sans, sans-serif" font-size="26" font-style="italic" x="0" y="0">λ</text></g>
<text font-family="Liberation Sans, sans-serif" font-size="21" font-style="italic" x="270" y="552.9">P</text>
<g transform="translate(30.9 144.5) rotate(-90)"><g transform="scale(1 1.14)"><text font-family="Liberation Sans, sans-serif" font-size="25" font-style="italic" x="0" y="0">ξ</text></g><text font-family="Liberation Sans, sans-serif" font-size="20.5" x="13.3" y="-16.8">(gs)</text><text font-family="Liberation Sans, sans-serif" font-size="20.2" x="13.8" y="6.5"><tspan font-style="italic">α</tspan>=2</text></g>
<g transform="translate(30.9 386.2) rotate(-90)"><g transform="scale(1 1.14)"><text font-family="Liberation Sans, sans-serif" font-size="25" font-style="italic" x="0" y="0">ξ</text></g><text font-family="Liberation Sans, sans-serif" font-size="20.5" x="13.3" y="-16.8">(gs)</text><text font-family="Liberation Sans, sans-serif" font-size="20.2" x="13.8" y="6.5"><tspan font-style="italic">α</tspan>=2</text></g>
</svg>
</body></html>
